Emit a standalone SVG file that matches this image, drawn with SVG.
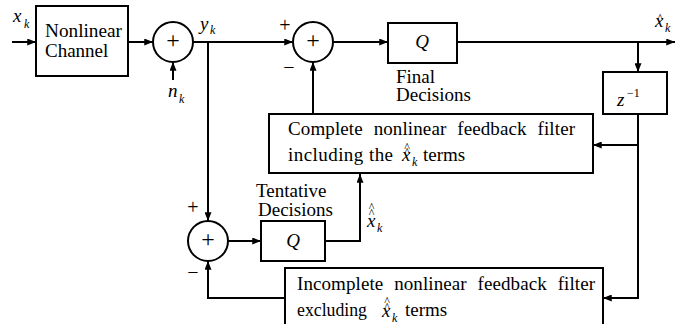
<svg xmlns="http://www.w3.org/2000/svg" width="676" height="324" viewBox="0 0 676 324" font-family="'Liberation Serif', 'Times New Roman', serif">
<defs>
<marker id="ah" viewBox="0 0 10 8" refX="10" refY="4" markerWidth="9" markerHeight="7" markerUnits="userSpaceOnUse" orient="auto">
<path d="M0,0 L10,4 L0,8 Z" fill="#000"/>
</marker>
<style>
.bx{fill:#fff;stroke:#000;stroke-width:2}
.sm{fill:#fff;stroke:#000;stroke-width:2}
.ln{fill:none;stroke:#000;stroke-width:2}
.ar{marker-end:url(#ah)}
text{font-family:"Liberation Serif","Times New Roman",serif;fill:#000}
.t{font-size:19px}
.m{font-size:19px;font-style:italic}
.s{font-size:12px;font-style:italic}
.h{font-size:12px}
.sup{font-size:12px}
.pm{font-size:20px}
.pc{font-size:24px}
</style>
</defs>
<rect width="676" height="324" fill="#fff"/>

<g id="connectors">
<path class="ln ar" d="M12,42 H36"/>
<path class="ln ar" d="M128,42 H153"/>
<path class="ln ar" d="M173,80 V62"/>
<path class="ln ar" d="M193,42 H293"/>
<path class="ln ar" d="M208,42 V221"/>
<path class="ln ar" d="M333,42 H388"/>
<path class="ln ar" d="M457,42 H675"/>
<path class="ln ar" d="M638,42 V72"/>
<path class="ln ar" d="M638,114 V298 H603"/>
<path class="ln ar" d="M638,145 H593"/>
<path class="ln ar" d="M313,114 V62"/>
<path class="ln ar" d="M228,241 H261"/>
<path class="ln ar" d="M325,241 H360 V174"/>
<path class="ln ar" d="M285,298 H208 V261"/>
</g>

<g id="labels">
<text class="m" x="13" y="22">x</text><text class="s" x="24" y="28">k</text>
<text class="m" x="200" y="30">y</text><text class="s" x="210" y="34">k</text>
<text class="m" x="168" y="97">n</text><text class="s" x="179" y="103">k</text>
<text class="h" x="660" y="21.5" text-anchor="middle">^</text>
<text class="m" x="655" y="27">x</text><text class="s" x="665" y="32">k</text>
<text class="pm" x="285" y="32" text-anchor="middle">+</text>
<text class="pm" x="289" y="74" text-anchor="middle">−</text>
<text class="pm" x="193" y="214" text-anchor="middle">+</text>
<text class="pm" x="193" y="279" text-anchor="middle">−</text>
<text class="t" x="396" y="83">Final</text>
<text class="t" x="396" y="101">Decisions</text>
<text class="t" x="256" y="197">Tentative</text>
<text class="t" x="258" y="216">Decisions</text>
<text class="h" x="371.5" y="210.5" text-anchor="middle">^</text>
<text class="h" x="371.5" y="216.5" text-anchor="middle">^</text>
<text class="m" x="367" y="227">x</text><text class="s" x="377" y="232">k</text>
</g>

<g id="channel">
<rect class="bx" x="36" y="6" width="92" height="70"/>
<text class="t" x="45" y="37" textLength="77" lengthAdjust="spacingAndGlyphs">Nonlinear</text>
<text class="t" x="45" y="57">Channel</text>
</g>

<g id="sum1">
<circle class="sm" cx="173" cy="42" r="20"/>
<text class="pc" x="173" y="48" text-anchor="middle">+</text>
</g>

<g id="sum2">
<circle class="sm" cx="313" cy="42" r="20"/>
<text class="pc" x="313" y="48" text-anchor="middle">+</text>
</g>

<g id="sum3">
<circle class="sm" cx="208" cy="241" r="20"/>
<text class="pc" x="208" y="247" text-anchor="middle">+</text>
</g>

<g id="q-final">
<rect class="bx" x="388" y="23" width="69" height="40"/>
<text class="m" x="422" y="48" text-anchor="middle">Q</text>
</g>

<g id="delay">
<rect class="bx" x="603" y="72" width="64" height="42"/>
<text class="m" x="617" y="106">z</text>
<text class="sup" x="627" y="97">−1</text>
</g>

<g id="complete-filter">
<rect class="bx" x="269" y="114" width="324" height="59"/>
<text class="t" x="288" y="135" textLength="287" lengthAdjust="spacing" word-spacing="6">Complete nonlinear feedback filter</text>
<text class="t" x="288" y="161" textLength="105" lengthAdjust="spacing">including the</text>
<text class="h" x="407" y="150.5" text-anchor="middle">^</text>
<text class="h" x="407" y="156" text-anchor="middle">^</text>
<text class="m" x="402" y="161">x</text><text class="s" x="412" y="166">k</text>
<text class="t" x="423" y="161">terms</text>
</g>

<g id="q-tentative">
<rect class="bx" x="261" y="221" width="64" height="40"/>
<text class="m" x="293" y="247" text-anchor="middle">Q</text>
</g>

<g id="incomplete-filter">
<rect class="bx" x="285" y="268" width="318" height="70"/>
<text class="t" x="297" y="290" textLength="298" lengthAdjust="spacing" word-spacing="6">Incomplete nonlinear feedback filter</text>
<text class="t" x="297" y="316" textLength="70" lengthAdjust="spacingAndGlyphs">excluding</text>
<text class="h" x="387" y="305" text-anchor="middle">^</text>
<text class="h" x="387" y="311" text-anchor="middle">^</text>
<text class="m" x="382" y="317">x</text><text class="s" x="392" y="322">k</text>
<text class="t" x="405" y="316">terms</text>
</g>
</svg>
